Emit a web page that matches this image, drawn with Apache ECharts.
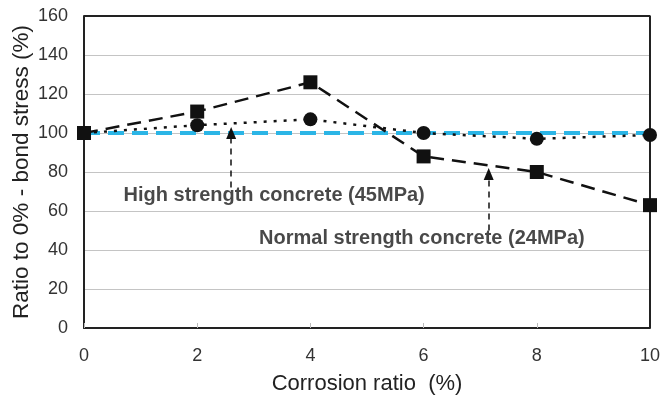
<!DOCTYPE html>
<html lang="en">
<head>
    <meta charset="UTF-8">
    <title>Bond stress ratio</title>
    <script src="https://cdn.jsdelivr.net/npm/echarts@6/dist/echarts.min.js"></script>
    <style>
        body { margin: 0; background: #fff; }
        #chart { width: 664px; height: 396px; }
    </style>
</head>
<body>
    <div id="chart"></div>
    <script>
        var corrosion = [0, 2, 4, 6, 8, 10];
        var normalStrength = [100, 111, 126, 88, 80, 63];   // squares, 24MPa
        var highStrength = [100, 104, 107, 100, 97, 99];   // circles, 45MPa
        var reference = [100, 100];                         // 100% line at x 0 and 10

        // annotation arrows: [x, from y (text side), to y (arrow head)]
        var highArrow = [2.6, 72, 100];
        var normalArrow = [7.15, 50, 79];
        // label anchors [x, y]
        var highLabel = [3.36, 68];
        var normalLabel = [5.97, 46];

        var chart = echarts.init(document.getElementById('chart'));

        function pairs(xs, ys) {
            return xs.map(function (x, i) { return [x, ys[i]]; });
        }

        chart.setOption({
            animation: false,
            grid: { left: 84, right: 14, top: 16, bottom: 68, containLabel: false, outerBoundsMode: 'none' },
            xAxis: {
                type: 'value',
                min: 0, max: 10, interval: 2,
                name: 'Corrosion ratio  (%)',
                nameLocation: 'middle',
                nameGap: 45,
                nameTextStyle: { fontSize: 22, color: '#222', fontFamily: 'Liberation Sans' },
                axisLine: { lineStyle: { color: '#222', width: 2 } },
                axisTick: { inside: true, length: 5, lineStyle: { color: '#bbb' } },
                axisLabel: { fontSize: 18, color: '#333', margin: 19, fontFamily: 'Liberation Sans' },
                splitLine: { show: false }
            },
            yAxis: {
                type: 'value',
                min: 0, max: 160, interval: 20,
                name: 'Ratio to 0% - bond stress (%)',
                nameLocation: 'middle',
                nameGap: 51,
                nameMoveOverlap: false,
                nameTextStyle: { fontSize: 22.5, color: '#222', fontFamily: 'Liberation Sans' },
                axisLine: { show: true, lineStyle: { color: '#222', width: 2 } },
                axisTick: { show: false },
                axisLabel: { fontSize: 18, color: '#333', margin: 16, fontFamily: 'Liberation Sans' },
                splitLine: { lineStyle: { color: '#c4c4c4', width: 1 } }
            },
            series: [
                {
                    // frame on top and right
                    type: 'line',
                    data: [[0, 160], [10, 160], [10, 0]],
                    symbol: 'none',
                    silent: true,
                    lineStyle: { color: '#222', width: 2 },
                    z: 1
                },
                {
                    type: 'line',
                    data: pairs([0, 10], reference),
                    symbol: 'none',
                    lineStyle: { color: '#2bb5e6', width: 4, type: [16, 8] },
                    z: 3
                },
                {
                    type: 'line',
                    data: pairs(corrosion, highStrength),
                    symbol: 'circle',
                    symbolSize: 14,
                    itemStyle: { color: '#111' },
                    lineStyle: { color: '#111', width: 2.5, type: [3, 7] },
                    z: 4,
                    markLine: {
                        silent: true,
                        symbol: ['none', 'triangle'],
                        symbolSize: [10, 12],
                        label: { show: false },
                        lineStyle: { color: '#111', width: 1.5, type: [6, 5] },
                        data: [[
                            { coord: [highArrow[0], highArrow[1]] },
                            { coord: [highArrow[0], highArrow[2]] }
                        ]]
                    }
                },
                {
                    type: 'line',
                    data: pairs(corrosion, normalStrength),
                    symbol: 'rect',
                    symbolSize: 14,
                    itemStyle: { color: '#111' },
                    lineStyle: { color: '#111', width: 2.5, type: [14, 8] },
                    z: 5,
                    markLine: {
                        silent: true,
                        symbol: ['none', 'triangle'],
                        symbolSize: [10, 12],
                        label: { show: false },
                        lineStyle: { color: '#111', width: 1.5, type: [6, 5] },
                        data: [[
                            { coord: [normalArrow[0], normalArrow[1]] },
                            { coord: [normalArrow[0], normalArrow[2]] }
                        ]]
                    }
                },
                {
                    // text labels
                    type: 'scatter',
                    symbolSize: 0,
                    silent: true,
                    data: [
                        { value: highLabel, label: { formatter: 'High strength concrete (45MPa)' } },
                        { value: normalLabel, label: { formatter: 'Normal strength concrete (24MPa)' } }
                    ],
                    label: {
                        show: true,
                        position: 'inside',
                        fontSize: 20,
                        fontWeight: 'bold',
                        color: '#1a1a1a',
                        fontFamily: 'Liberation Sans'
                    },
                    z: 6
                }
            ]
        });
    </script>
</body>
</html>
